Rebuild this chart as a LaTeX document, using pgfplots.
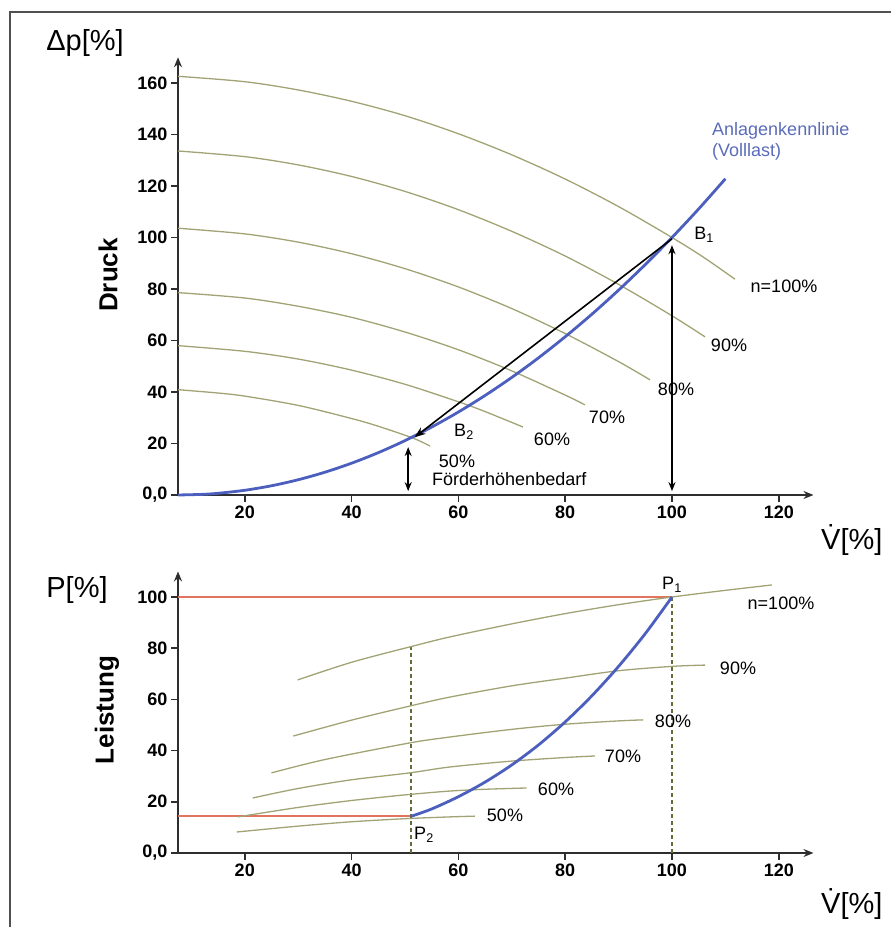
\documentclass[border=0pt]{standalone}
\usepackage{fontspec}
\setmainfont{Liberation Sans}
\usepackage{pgfplots}
\pgfplotsset{compat=1.18}
\usetikzlibrary{arrows.meta}
\definecolor{axgray}{HTML}{2E2E2E}
\definecolor{pumpgreen}{HTML}{A2A374}
\definecolor{dashgreen}{HTML}{5F6E35}
\definecolor{sysblue}{HTML}{4C5FBF}
\definecolor{txtblue}{HTML}{5A6BBA}
\definecolor{redline}{HTML}{E2735F}
\definecolor{frame}{HTML}{505050}
\newcommand\lab{\fontsize{18}{21}\selectfont}
\newcommand\ttl{\fontsize{26}{30}\selectfont}
\newcommand\bigttl{\fontsize{29}{32}\selectfont}
\pgfplotsset{
  kennfeld/.style={
    scale only axis, clip=false,
    axis lines=left,
    axis line style={draw=axgray, line width=1.6pt, -{Stealth[length=10pt,width=8pt]}},
    tick align=outside,
    major tick length=7pt,
    tick style={draw=axgray, line width=1.5pt},
    xmin=7.5, xmax=126.5,
    xtick={20,40,60,80,100,120},
    xticklabels={20,40,60,80,100,120},
    ticklabel style={font=\lab\bfseries, text=black},
    anchor=south west,
  },
  pump/.style={draw=pumpgreen, line width=1.3pt, smooth, no marks},
  guide/.style={draw=dashgreen, line width=1.5pt, dash pattern=on 4pt off 3pt, no marks},
}
\begin{document}
\begin{tikzpicture}
\useasboundingbox (0,0) rectangle (891pt,927pt);
\draw[frame, line width=1.5pt] (10pt,0pt) -- (10pt,915pt) -- (891pt,915pt);

% upper diagram: pressure
\begin{axis}[kennfeld, at={(178pt,432pt)}, width=635.5pt, height=437.75pt,
  ymin=0, ymax=170,
  ytick={0,20,40,60,80,100,120,140,160},
  yticklabels={{0,0},20,40,60,80,100,120,140,160}]
\addplot[pump] coordinates {(7.5,162.6) (20,160.5) (30,157.3) (40,152.9) (50,147.3) (60,140.3) (70,132.1) (80,122.7) (90,112) (100,100) (106,92.2) (111.8,83.8)};
\addplot[pump] coordinates {(7.5,133.6) (20,131.4) (30,128.2) (40,123.7) (50,117.9) (60,110.8) (70,102.4) (80,92.8) (90,81.8) (100,69.6) (106.2,61.4)};
\addplot[pump] coordinates {(7.5,103.6) (20,101.4) (30,98.2) (40,93.7) (50,87.9) (60,80.8) (70,72.4) (80,62.7) (90,51.8) (95.9,44.7)};
\addplot[pump] coordinates {(7.5,78.6) (20,76.5) (30,73.3) (40,69) (50,63.3) (60,56.4) (70,48.2) (80,38.8) (83.7,35)};
\addplot[pump] coordinates {(7.5,58) (20,55.8) (30,52.8) (40,48.5) (50,43) (60,36.2) (65,32.4) (72.1,26.4)};
\addplot[pump] coordinates {(7.5,40.9) (15,39.6) (20,38.4) (30,34.8) (40,29.7) (45,26.7) (51.5,22.1) (54.7,19.0)};
\addplot[draw=sysblue, line width=2.8pt, smooth, no marks] coordinates {(7.5,0) (12,0.24) (15,0.66) (20,1.83) (25,3.58) (30,5.92) (35,8.84) (40,12.35) (45,16.44) (50,21.11) (55,26.38) (60,32.22) (65,38.65) (70,45.66) (75,53.26) (80,61.45) (85,70.21) (90,79.56) (95,89.5) (100,100) (105,111.1) (110,122.8)};
\draw[-{Stealth[length=11pt,width=8pt]}, line width=1.6pt] (axis cs:100,99.5) -- (axis cs:51.8,22.4);
\draw[{Stealth[length=9pt,width=7pt]}-{Stealth[length=9pt,width=7pt]}, line width=1.4pt] (axis cs:100,1.5) -- (axis cs:100,97);
\draw[{Stealth[length=9pt,width=7pt]}-{Stealth[length=9pt,width=7pt]}, line width=1.4pt] (axis cs:50.6,1.5) -- (axis cs:50.6,18.6);
\end{axis}

% lower diagram: power
\begin{axis}[kennfeld, at={(178pt,74pt)}, width=635.5pt, height=281.6pt,
  ymin=0, ymax=110,
  ytick={0,20,40,60,80,100},
  yticklabels={{0,0},20,40,60,80,100}]
\addplot[draw=redline, line width=2pt, no marks] coordinates {(7.5,100) (100,100)};
\addplot[draw=redline, line width=2pt, no marks] coordinates {(7.5,14.3) (51.1,14.3)};
\addplot[guide] coordinates {(51.1,0) (51.1,80.5)};
\addplot[guide] coordinates {(100,0) (100,100)};
\addplot[pump] coordinates {(29.9,67.6) (40,74.5) (50.9,80.5) (58.4,84.4) (70,89.5) (80,93.5) (90,97) (100,100) (110,102.6) (118.7,104.7)};
\addplot[pump] coordinates {(29.1,45.7) (40,51.9) (50.9,57.4) (58.4,60.9) (70,65.3) (80,68.3) (90,71.2) (100,72.9) (106.2,73.4)};
\addplot[pump] coordinates {(25,31.3) (35,36.5) (50.9,43) (58.4,45.3) (70,48.3) (80,50.3) (90,51.6) (94.6,52)};
\addplot[pump] coordinates {(21.5,21.5) (30,25.2) (40,28.6) (50.9,31.3) (58.4,33.6) (70,35.9) (80,37.3) (85.6,37.9)};
\addplot[pump] coordinates {(18.7,14.1) (30,17.8) (40,20.5) (50,22.7) (58.4,24.2) (65,24.9) (72.8,25.4)};
\addplot[pump] coordinates {(18.5,8.2) (30,10.5) (40,12.2) (50,13.4) (58.4,14.1) (63.1,14.4)};
\addplot[draw=sysblue, line width=2.8pt, smooth, no marks] coordinates {(51.1,14.3) (55,17.2) (60,22) (65,27.7) (70,34.4) (75,42.2) (80,51.2) (85,61.4) (90,72.9) (95,85.7) (100,100)};
\end{axis}

% axis titles
\node[font=\bigttl] at (85pt,884pt) {Δp[\%]};
\node[font=\ttl\bfseries, rotate=90] at (108pt,652pt) {Druck};
\node[font=\bigttl, anchor=east] at (886pt,387pt) {\.{V}[\%]};
\node[font=\bigttl] at (77pt,337pt) {P[\%]};
\node[font=\ttl\bfseries, rotate=90] at (107pt,217pt) {Leistung};
\node[font=\bigttl, anchor=east] at (886pt,23pt) {\.{V}[\%]};

% annotations upper
\node[font=\lab] at (704pt,692pt) {B\textsubscript{1}};
\node[font=\lab] at (784pt,641pt) {n=100\%};
\node[font=\lab] at (729pt,582pt) {90\%};
\node[font=\lab] at (676pt,538pt) {80\%};
\node[font=\lab] at (607pt,510pt) {70\%};
\node[font=\lab] at (552pt,488pt) {60\%};
\node[font=\lab] at (464pt,495pt) {B\textsubscript{2}};
\node[font=\lab] at (457pt,466pt) {50\%};
\node[font=\lab, anchor=west, inner sep=0pt] at (432pt,448pt) {Förderhöhenbedarf};
\node[font=\lab, text=txtblue, anchor=west, inner sep=0pt] at (712pt,796pt) {Anlagenkennlinie};
\node[font=\lab, text=txtblue, anchor=west, inner sep=0pt] at (712pt,775pt) {(Volllast)};

% annotations lower
\node[font=\lab] at (672pt,342pt) {P\textsubscript{1}};
\node[font=\lab] at (781pt,324pt) {n=100\%};
\node[font=\lab] at (738pt,259pt) {90\%};
\node[font=\lab] at (673pt,206pt) {80\%};
\node[font=\lab] at (623pt,171pt) {70\%};
\node[font=\lab] at (556pt,138pt) {60\%};
\node[font=\lab] at (505pt,112pt) {50\%};
\node[font=\lab] at (424pt,92pt) {P\textsubscript{2}};
\end{tikzpicture}
\end{document}
